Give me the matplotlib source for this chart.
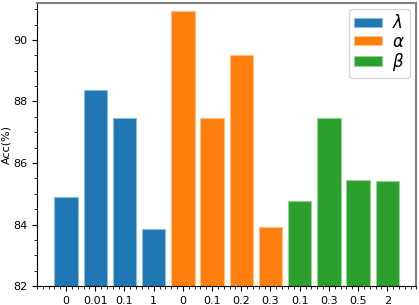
import matplotlib
matplotlib.use("Agg")
import matplotlib.pyplot as plt

# x tick labels per group
lambda_labels = ["0", "0.01", "0.1", "1"]
alpha_labels = ["0", "0.1", "0.2", "0.3"]
beta_labels = ["0.1", "0.3", "0.5", "2"]

# accuracy values
lambda_acc = [84.90, 88.39, 87.45, 83.84]
alpha_acc = [90.94, 87.45, 89.50, 83.93]
beta_acc = [84.78, 87.45, 85.46, 85.43]

groups = [
    (r"$\lambda$", lambda_labels, lambda_acc, "#1f77b4", "#8fbbda"),
    (r"$\alpha$", alpha_labels, alpha_acc, "#ff7f0e", "#ffbf86"),
    (r"$\beta$", beta_labels, beta_acc, "#2ca02c", "#95cf95"),
]

fig, ax = plt.subplots(figsize=(4.19, 3.05), dpi=100)

pos = 0
all_labels = []
for name, labels, vals, color, edge in groups:
    xs = list(range(pos, pos + len(vals)))
    ax.bar(xs, vals, width=0.8, color=color, edgecolor=edge,
           linewidth=0.8, label=name)
    all_labels += labels
    pos += len(vals)

ax.set_xticks(range(len(all_labels)))
ax.set_xticklabels(all_labels)
ax.set_xlim(-1, len(all_labels))
ax.set_ylim(82, 91.2)
ax.set_yticks([82, 84, 86, 88, 90])
ax.minorticks_on()
ax.tick_params(labelsize=8)
ax.set_ylabel("Acc(%)", fontsize=8)
ax.yaxis.set_label_coords(-0.066, 0.5)

for s in ["top", "right"]:
    ax.spines[s].set_color("#808080")
    ax.spines[s].set_linewidth(1.5)

ax.legend(loc="upper right", fontsize=12, handlelength=1.7,
          handleheight=0.48, labelspacing=0.02, borderpad=0.3,
          handletextpad=0.6, borderaxespad=0.38)

fig.subplots_adjust(left=0.088, right=0.994, top=0.99, bottom=0.062)
fig.savefig("out.png", dpi=100)
